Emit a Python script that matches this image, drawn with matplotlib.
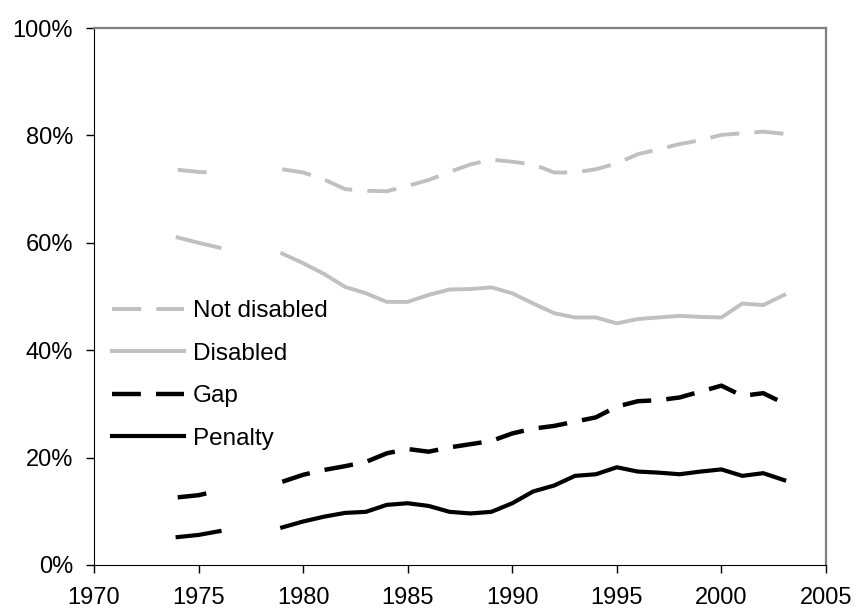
import numpy as np
from matplotlib import pyplot as plt

nan = np.nan
years = list(range(1974, 2004))

# 1977 and 1978 have no data
not_disabled = [73.6, 73.2, 73.0, nan, nan, 73.7, 73.1, 71.8, 70.0, 69.7, 69.6, 70.6, 71.7, 73.2, 74.6,
                75.5, 75.1, 74.6, 73.1, 73.1, 73.7, 74.8, 76.5, 77.4, 78.4, 79.1, 80.1, 80.4, 80.7, 80.3]
disabled = [61.0, 60.0, 59.1, nan, nan, 58.0, 56.2, 54.2, 51.8, 50.6, 49.0, 49.0, 50.3, 51.3, 51.4,
            51.7, 50.6, 48.7, 46.9, 46.1, 46.1, 45.0, 45.8, 46.1, 46.4, 46.2, 46.1, 48.7, 48.4, 50.3]
gap = [12.6, 13.0, 13.9, nan, nan, 15.5, 16.8, 17.7, 18.4, 19.2, 20.8, 21.6, 21.1, 21.9, 22.5,
       23.1, 24.5, 25.4, 25.9, 26.7, 27.5, 29.5, 30.5, 30.7, 31.2, 32.3, 33.4, 31.5, 32.0, 30.1]
penalty = [5.2, 5.6, 6.3, nan, nan, 7.0, 8.1, 9.0, 9.7, 9.9, 11.2, 11.5, 11.0, 9.9, 9.6,
           9.9, 11.5, 13.7, 14.8, 16.6, 16.9, 18.2, 17.4, 17.2, 16.9, 17.4, 17.8, 16.6, 17.1, 15.8]

plt.rcParams['font.family'] = ['Liberation Sans', 'DejaVu Sans']

fig = plt.figure(figsize=(8.57, 6.12), dpi=100)
ax = fig.add_axes([0.1097, 0.0768, 0.8541, 0.8774])

grey = '#c0c0c0'
ax.plot(years, not_disabled, color=grey, lw=2.8, linestyle=(0, (7.5, 3.9)), label='Not disabled')
ax.plot(years, disabled, color=grey, lw=2.8, linestyle='solid', label='Disabled')
ax.plot(years, gap, color='black', lw=3.2, linestyle=(0, (6.5, 3.4)), label='Gap')
ax.plot(years, penalty, color='black', lw=3.0, linestyle='solid', label='Penalty')

ax.set_xlim(1970, 2005)
ax.set_ylim(0, 100)
ax.set_xticks(range(1970, 2006, 5))
ax.set_yticks(range(0, 101, 20))
ax.set_yticklabels(['%d%%' % v for v in range(0, 101, 20)])
ax.tick_params(direction='out', length=6, width=1, labelsize=17, color='black')
ax.tick_params(axis='x', pad=10)
ax.tick_params(axis='y', pad=9)

ax.spines['left'].set_color('black')
ax.spines['bottom'].set_color('black')
ax.spines['top'].set_color('#808080')
ax.spines['right'].set_color('#808080')
ax.spines['top'].set_linewidth(1.6)
ax.spines['right'].set_linewidth(1.6)

ax.legend(loc='center left', bbox_to_anchor=(0.1303, 0.3874), bbox_transform=fig.transFigure,
          frameon=False, fontsize=17.5, handlelength=2.97, handletextpad=0.37,
          labelspacing=0.84, borderpad=0, borderaxespad=0)

fig.savefig('out.png', dpi=100)
